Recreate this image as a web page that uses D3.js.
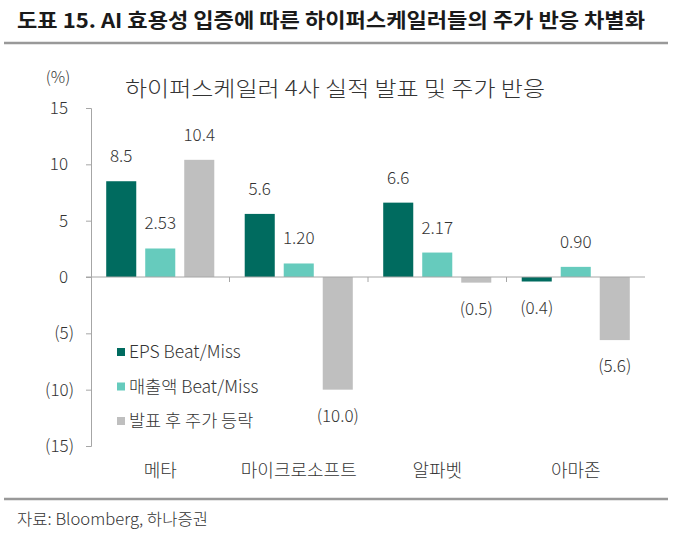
<!DOCTYPE html>
<html>
<head>
<meta charset="utf-8">
<script src="https://cdn.jsdelivr.net/npm/d3@7"></script>
<style>
  body { margin: 0; background: #fff; }
  text { font-family: "Noto Sans CJK KR", "Noto Sans", sans-serif; fill: #333; }
</style>
</head>
<body>
<div id="chart"></div>
<script>
// data
var companies = ["메타", "마이크로소프트", "알파벳", "아마존"];
var seriesNames = ["EPS Beat/Miss", "매출액 Beat/Miss", "발표 후 주가 등락"];
var epsBeat = [8.5, 5.6, 6.6, -0.4];
var salesBeat = [2.53, 1.20, 2.17, 0.90];
var priceMove = [10.4, -10.0, -0.5, -5.6];
var labelDigits = [1, 2, 1];   // decimals shown per series
var yTicks = [-15, -10, -5, 0, 5, 10, 15];
var colors = ["#006B5F", "#66CBBD", "#BFBFBF"];

var svgWidth = 678, svgHeight = 536;

var svg = d3.select("#chart")
    .append("svg")
    .attr("width", svgWidth)
    .attr("height", svgHeight);

// header
svg.append("text")
    .attr("x", 17).attr("y", 28)
    .style("font-size", "20px")
    .style("font-weight", 700)
    .style("fill", "#1a1a1a")
    .attr("textLength", 628)
    .attr("lengthAdjust", "spacingAndGlyphs")
    .text("도표 15. AI 효용성 입증에 따른 하이퍼스케일러들의 주가 반응 차별화");

svg.append("line")
    .attr("x1", 4).attr("x2", 668)
    .attr("y1", 43).attr("y2", 43)
    .attr("stroke", "#999").attr("stroke-width", 2.5);

svg.append("line")
    .attr("x1", 4).attr("x2", 668)
    .attr("y1", 499).attr("y2", 499)
    .attr("stroke", "#999").attr("stroke-width", 2.5);

svg.append("text")
    .attr("x", 17).attr("y", 525)
    .style("font-size", "16px")
    .style("font-weight", 300)
    .attr("textLength", 191)
    .attr("lengthAdjust", "spacingAndGlyphs")
    .text("자료: Bloomberg, 하나증권");

// scales
var x0 = d3.scaleBand().domain(companies).range([91, 645]);
var x1 = d3.scaleBand().domain(seriesNames)
    .range([0, x0.bandwidth()])
    .paddingInner(0.23).paddingOuter(0.39);
var y = d3.scaleLinear().domain([-15, 15]).range([446, 108]);

var fmtTick = v => v < 0 ? "(" + Math.abs(v) + ")" : String(v);
var fmtLabel = (v, d) => v < 0 ? "(" + Math.abs(v).toFixed(d) + ")" : v.toFixed(d);

// y axis
var yAxis = svg.append("g")
    .attr("transform", "translate(91,0)")
    .call(d3.axisLeft(y).tickValues(yTicks).tickSize(5).tickFormat(""));
yAxis.select(".domain").attr("stroke", "#A6A6A6");
yAxis.selectAll(".tick line").attr("stroke", "#A6A6A6");

svg.append("g").selectAll("text")
    .data(yTicks)
    .enter()
    .append("text")
    .attr("x", d => d < 0 ? 74 : 68)
    .attr("y", d => y(d) + 6)
    .attr("text-anchor", "end")
    .style("font-size", "17px")
    .style("font-weight", 300)
    .text(fmtTick);

svg.append("text")
    .attr("x", 58).attr("y", 83)
    .attr("text-anchor", "middle")
    .style("font-size", "16px")
    .style("font-weight", 300)
    .text("(%)");

svg.append("text")
    .attr("x", 125).attr("y", 96)
    .style("font-size", "21px")
    .style("font-weight", 300)
    .attr("textLength", 420)
    .attr("lengthAdjust", "spacingAndGlyphs")
    .text("하이퍼스케일러 4사 실적 발표 및 주가 반응");

// bars
var rows = companies.map((c, i) => ({
    company: c,
    values: [epsBeat[i], salesBeat[i], priceMove[i]].map((v, j) => ({ key: seriesNames[j], idx: j, value: v }))
}));

var groups = svg.append("g").selectAll("g")
    .data(rows)
    .enter()
    .append("g")
    .attr("transform", d => `translate(${x0(d.company)},0)`);

groups.selectAll("rect")
    .data(d => d.values)
    .enter()
    .append("rect")
    .attr("x", d => x1(d.key))
    .attr("width", x1.bandwidth())
    .attr("y", d => y(Math.max(0, d.value)))
    .attr("height", d => Math.abs(y(d.value) - y(0)))
    .attr("fill", d => colors[d.idx]);

groups.selectAll("text")
    .data(d => d.values)
    .enter()
    .append("text")
    .attr("x", d => x1(d.key) + x1.bandwidth() / 2)
    .attr("y", d => d.value >= 0 ? y(d.value) - 19 : y(d.value) + 32)
    .attr("text-anchor", "middle")
    .style("font-size", "17px")
    .style("font-weight", 300)
    .text(d => fmtLabel(d.value, labelDigits[d.idx]));

// zero line with category separators
var xAxis = svg.append("g")
    .attr("transform", `translate(0,${y(0)})`)
    .call(d3.axisBottom(x0).tickSize(0).tickFormat(""));
xAxis.select(".domain").attr("stroke", "#A6A6A6").attr("d", "M86,0H645");
svg.append("g").selectAll("line")
    .data(companies.slice(1))
    .enter()
    .append("line")
    .attr("x1", d => x0(d)).attr("x2", d => x0(d))
    .attr("y1", y(0)).attr("y2", y(0) + 5)
    .attr("stroke", "#A6A6A6");

// category labels
svg.append("g").selectAll("text")
    .data(companies)
    .enter()
    .append("text")
    .attr("x", d => x0(d) + x0.bandwidth() / 2)
    .attr("y", 477)
    .attr("text-anchor", "middle")
    .style("font-size", "18px")
    .style("font-weight", 300)
    .text(d => d);

// legend
var legend = svg.append("g").selectAll("g")
    .data(seriesNames)
    .enter()
    .append("g")
    .attr("transform", (d, i) => `translate(117,${352 + i * 34.5})`);

legend.append("rect")
    .attr("x", 0).attr("y", -4)
    .attr("width", 8).attr("height", 8)
    .attr("fill", (d, i) => colors[i]);

legend.append("text")
    .attr("x", 12).attr("y", 6)
    .style("font-size", "17.5px")
    .style("font-weight", 300)
    .text(d => d);
</script>
</body>
</html>
